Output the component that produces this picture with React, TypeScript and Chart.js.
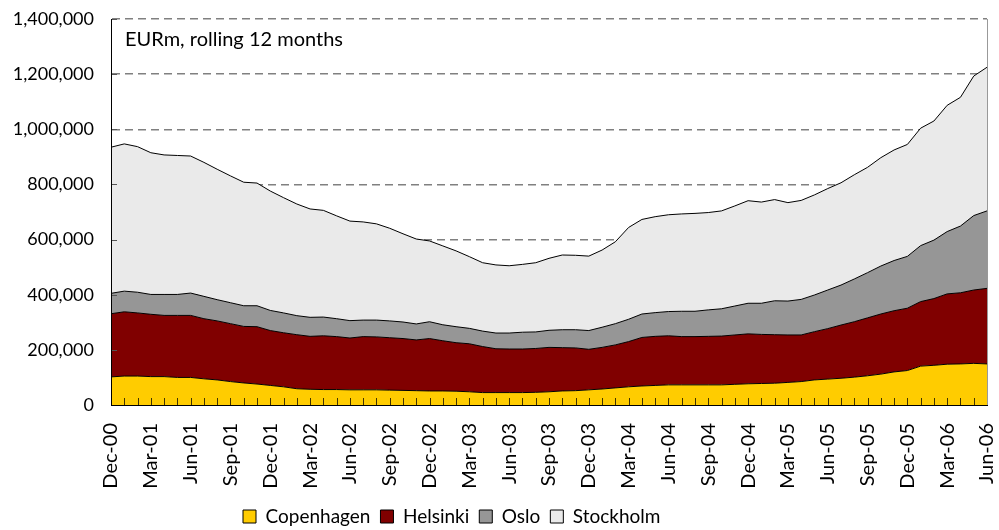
import React, { useEffect, useRef } from 'react';
import { Chart, registerables } from 'chart.js';

Chart.register(...registerables);

const monthNames = ['Jan', 'Feb', 'Mar', 'Apr', 'May', 'Jun', 'Jul', 'Aug', 'Sep', 'Oct', 'Nov', 'Dec'];
// Monthly categories Dec-00 .. Jun-06
const categories: string[] = [];
for (let k = 0; k < 67; k++) {
  const m = (11 + k) % 12;
  const yr = Math.floor((11 + k) / 12);
  categories.push(`${monthNames[m]}-${String(yr).padStart(2, '0')}`);
}

const NOTE = 'EURm, rolling 12 months';

const copenhagen = [
  102000, 105000, 105000, 103000, 103000, 100000, 100000, 95000, 91000, 85000,
  80000, 76000, 71000, 66000, 59000, 57000, 56000, 56000, 55000, 55000,
  55000, 54000, 53000, 52000, 51000, 51000, 50000, 48000, 45000, 45000,
  45000, 45000, 46000, 48000, 51000, 52000, 55000, 58000, 62000, 66000,
  69000, 71000, 73000, 73000, 73000, 73000, 73000, 75000, 77000, 78000,
  79000, 82000, 85000, 91000, 94000, 97000, 101000, 106000, 112000, 120000,
  125000, 141000, 144000, 148000, 149000, 151000, 149000,
];

const helsinki = [
  229000, 233000, 229000, 226000, 222000, 225000, 225000, 218000, 214000, 210000,
  205000, 208000, 199000, 196000, 196000, 192000, 195000, 192000, 188000, 193000,
  192000, 190000, 188000, 184000, 190000, 182000, 176000, 174000, 167000, 159000,
  158000, 158000, 159000, 161000, 157000, 155000, 147000, 151000, 156000, 164000,
  176000, 178000, 178000, 175000, 175000, 176000, 177000, 179000, 181000, 178000,
  176000, 172000, 169000, 175000, 183000, 193000, 201000, 210000, 218000, 222000,
  226000, 234000, 242000, 255000, 258000, 266000, 274000,
];

const oslo = [
  74000, 75000, 75000, 72000, 76000, 76000, 81000, 81000, 77000, 76000,
  75000, 76000, 73000, 72000, 69000, 69000, 68000, 65000, 63000, 60000,
  61000, 61000, 60000, 58000, 61000, 58000, 58000, 56000, 56000, 57000,
  58000, 61000, 60000, 62000, 65000, 66000, 68000, 73000, 77000, 81000,
  85000, 86000, 88000, 92000, 92000, 96000, 99000, 105000, 111000, 113000,
  123000, 123000, 129000, 133000, 140000, 145000, 155000, 164000, 174000, 182000,
  188000, 203000, 212000, 226000, 242000, 270000, 281000,
];

const stockholm = [
  530000, 534000, 528000, 514000, 506000, 504000, 497000, 486000, 473000, 460000,
  448000, 445000, 433000, 418000, 405000, 393000, 387000, 373000, 361000, 356000,
  349000, 336000, 320000, 308000, 293000, 286000, 275000, 260000, 248000, 247000,
  244000, 246000, 251000, 261000, 271000, 270000, 270000, 280000, 297000, 333000,
  343000, 348000, 351000, 353000, 355000, 353000, 355000, 363000, 372000, 367000,
  367000, 357000, 359000, 363000, 368000, 371000, 378000, 382000, 393000, 401000,
  406000, 426000, 432000, 458000, 467000, 506000, 521000,
];

const seriesNames = ['Copenhagen', 'Helsinki', 'Oslo', 'Stockholm'];
const seriesColors = ['#FFCC00', '#800000', '#969696', '#EAEAEA'];

const FONT = 'Lato, "Open Sans", sans-serif';

const decorPlugin = {
  id: 'decor',
  afterLayout(chart: any) {
    const lg = chart.legend;
    if (lg) {
      const w = lg.right - lg.left;
      const h = lg.bottom - lg.top;
      lg.left = 233;
      lg.right = 233 + w;
      lg.top = 497;
      lg.bottom = 497 + h;
    }
  },
  afterDatasetsDraw(chart: any) {
    const { ctx, chartArea: a, scales } = chart;
    const xs = scales.x;
    const ys = scales.y;
    ctx.save();
    // month tick marks inside the plot
    ctx.strokeStyle = 'rgba(0,0,0,0.75)';
    ctx.lineWidth = 1;
    ctx.beginPath();
    for (let i = 0; i < categories.length; i++) {
      const px = Math.round(xs.getPixelForValue(i)) + 0.5;
      ctx.moveTo(px, a.bottom);
      ctx.lineTo(px, a.bottom - 7);
    }
    ctx.stroke();
    // value tick marks inside the plot
    ctx.strokeStyle = '#555';
    ctx.beginPath();
    ys.ticks.forEach((t: any) => {
      const py = Math.round(ys.getPixelForValue(t.value)) + 0.5;
      ctx.moveTo(a.left, py);
      ctx.lineTo(a.left + 6, py);
    });
    ctx.stroke();
    // right border
    ctx.strokeStyle = '#999';
    ctx.beginPath();
    ctx.moveTo(Math.round(a.right) + 0.5, a.top);
    ctx.lineTo(Math.round(a.right) + 0.5, a.bottom);
    ctx.stroke();
    // note text
    ctx.fillStyle = '#000';
    ctx.font = `20px ${FONT}`;
    ctx.textBaseline = 'alphabetic';
    ctx.textAlign = 'left';
    ctx.fillText(NOTE, a.left + 14, a.top + 27);
    ctx.restore();
  },
};

export default function App() {
  const canvasRef = useRef<HTMLCanvasElement | null>(null);

  useEffect(() => {
    const canvas = canvasRef.current;
    if (!canvas) return;
    const values = [copenhagen, helsinki, oslo, stockholm];
    const chart = new Chart(canvas, {
      type: 'line',
      data: {
        labels: categories,
        datasets: values.map((v, i) => ({
          label: seriesNames[i],
          data: v,
          backgroundColor: seriesColors[i],
          borderColor: '#000',
          borderWidth: 1,
          pointRadius: 0,
          pointHoverRadius: 0,
          tension: 0,
          fill: i === 0 ? 'origin' : '-1',
        })),
      },
      options: {
        responsive: false,
        animation: false,
        events: [],
        layout: { padding: { top: 19, right: 12, left: 0, bottom: 0 } },
        plugins: {
          tooltip: { enabled: false },
          legend: {
            display: true,
            position: 'bottom',
            align: 'start',
            labels: {
              boxWidth: 13,
              boxHeight: 13,
              padding: 10,
              color: '#000',
              font: { family: FONT, size: 19 },
            },
          },
        },
        scales: {
          x: {
            type: 'category',
            offset: false,
            grid: { display: false, drawTicks: false },
            border: { display: true, color: '#000', width: 1, z: 1 },
            ticks: {
              autoSkip: false,
              maxRotation: 90,
              minRotation: 90,
              padding: 18,
              color: '#000',
              font: { family: FONT, size: 20 },
              callback: (_v: any, idx: number) => (idx % 3 === 0 ? categories[idx] : ''),
            },
            afterFit: (scale: any) => {
              const lh = scale.chart.legend ? scale.chart.legend.height : 39;
              scale.height = 530 - 405 - lh;
              scale.paddingLeft = 0;
              scale.paddingRight = 0;
            },
          },
          y: {
            type: 'linear',
            stacked: true,
            min: 0,
            max: 1400000,
            grid: { display: true, drawTicks: false, color: '#808080', lineWidth: 1.5 },
            border: { display: true, color: '#000', width: 1, dash: [8, 5], z: 1 },
            ticks: {
              stepSize: 200000,
              padding: 17,
              color: '#000',
              font: { family: FONT, size: 18 },
              callback: (v: any) => Number(v).toLocaleString('en-US'),
            },
            afterFit: (scale: any) => {
              scale.width = 111;
              scale.paddingTop = 0;
              scale.paddingBottom = 0;
            },
          },
        },
      },
      plugins: [decorPlugin],
    });
    return () => chart.destroy();
  }, []);

  return (
    <div style={{ position: 'absolute', left: 0, top: 0, width: 999, height: 530, background: '#fff' }}>
      <canvas ref={canvasRef} width={999} height={530} />
    </div>
  );
}
